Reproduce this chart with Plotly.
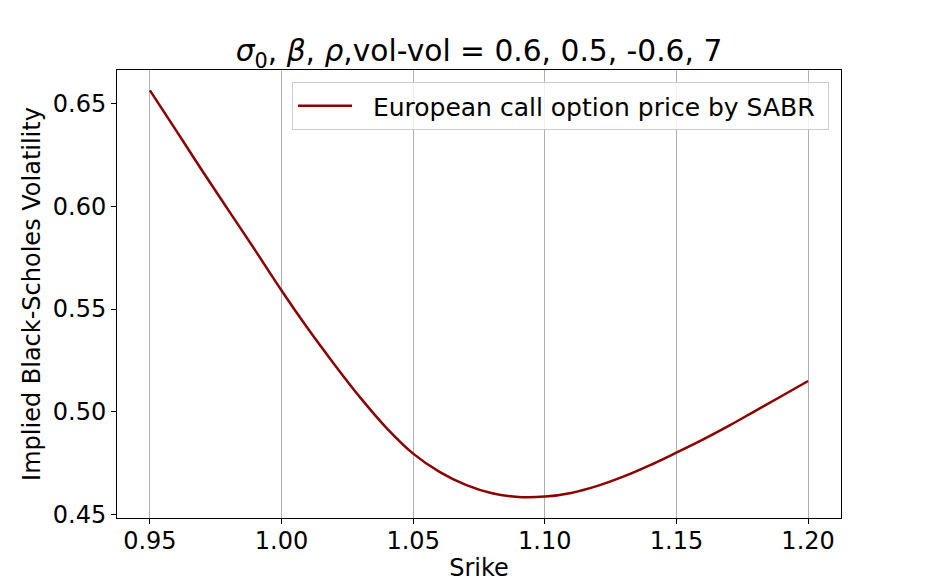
import plotly.graph_objects as go

strike = [0.95, 0.96, 0.97, 0.98, 0.99, 1.00, 1.01, 1.02, 1.03, 1.04, 1.05, 1.06, 1.07,
          1.08, 1.09, 1.10, 1.11, 1.12, 1.13, 1.14, 1.15, 1.16, 1.17, 1.18, 1.19, 1.20]
implied_vol = [0.6563, 0.6367, 0.6170, 0.5977, 0.5785, 0.5590, 0.5405, 0.5232, 0.5068,
               0.4920, 0.4797, 0.4708, 0.4645, 0.4604, 0.4586, 0.4588, 0.4606, 0.4640,
               0.4686, 0.4741, 0.4802, 0.4865, 0.4933, 0.5005, 0.5077, 0.5150]
x_ticks = [0.95, 1.00, 1.05, 1.10, 1.15, 1.20]
y_ticks = [0.45, 0.50, 0.55, 0.60, 0.65]
series_name = "European call option price by SABR"

FONT = "DejaVu Sans"
FS = 24

fig = go.Figure()
fig.add_trace(go.Scatter(
    x=strike, y=implied_vol, mode="lines",
    line=dict(color="#8b0000", width=2.5, shape="spline", smoothing=1.0),
    name="\u00a0\u00a0" + series_name + "\u00a0",
))

axis_common = dict(
    showline=True, linecolor="black", linewidth=1, mirror=True,
    ticks="outside", ticklen=5, tickwidth=1, tickcolor="black",
    tickfont=dict(family=FONT, size=FS, color="black"),
    zeroline=False, automargin=False,
)

fig.update_layout(
    width=934, height=582,
    margin=dict(l=117, r=93, t=70, b=64),
    paper_bgcolor="white", plot_bgcolor="white",
    font=dict(family=FONT, color="black"),
    title=dict(
        text="<i>σ</i><sub>0</sub>, <i>β</i>, <i>ρ</i>,vol-vol = 0.6, 0.5, -0.6, 7",
        x=0.5, xref="paper", xanchor="center",
        y=1 - 51 / 582, yref="container", yanchor="middle",
        font=dict(family=FONT, size=29.7, color="black"),
    ),
    xaxis=dict(
        range=[0.9375, 1.2125], tickvals=x_ticks,
        ticktext=[f"{v:.2f}" for v in x_ticks],
        showgrid=True, gridcolor="#b0b0b0", gridwidth=1,
        ticklabelstandoff=-4,
        title=dict(text="Srike", font=dict(family=FONT, size=FS, color="black"), standoff=10),
        **axis_common,
    ),
    yaxis=dict(
        range=[0.4484, 0.6662], tickvals=y_ticks,
        ticktext=[f"{v:.2f}" for v in y_ticks],
        showgrid=False,
        title=dict(text="Implied Black-Scholes Volatility",
                   font=dict(family=FONT, size=FS, color="black"), standoff=5),
        **axis_common,
    ),
    showlegend=True,
    legend=dict(
        x=0.9834, xanchor="right", y=0.973, yanchor="top",
        bgcolor="rgba(255,255,255,0.8)", bordercolor="#cccccc", borderwidth=1,
        font=dict(family=FONT, size=25, color="black"),
        itemwidth=54,
    ),
)

fig.write_html("out.html")
